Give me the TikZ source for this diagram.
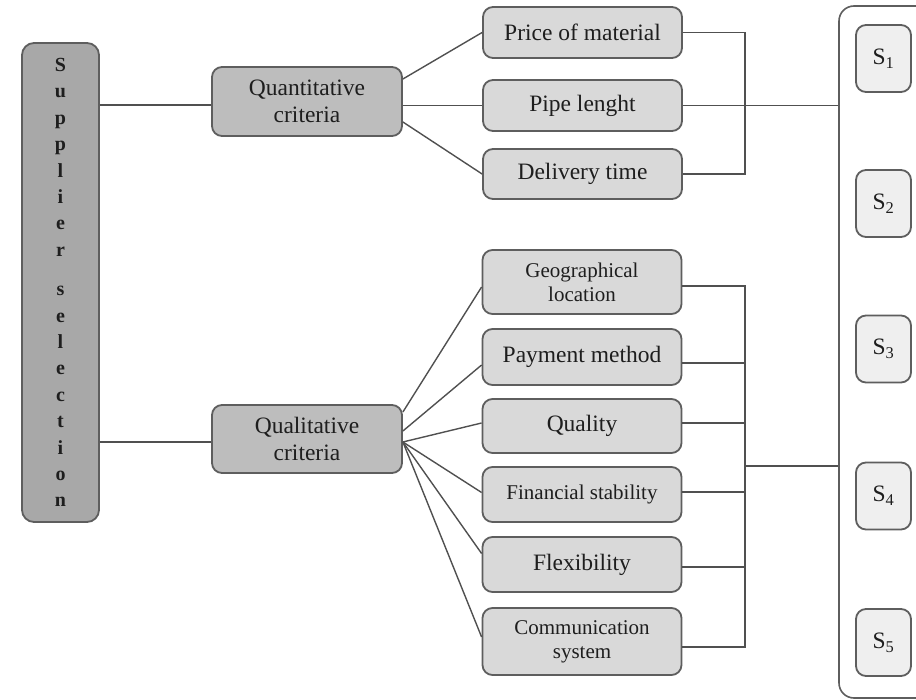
\documentclass[tikz,border=0pt]{standalone}
\usepackage{fontspec}
\setmainfont{Liberation Serif}
\usetikzlibrary{calc}
\definecolor{supfill}{HTML}{A8A8A8}
\definecolor{critfill}{HTML}{BDBDBD}
\definecolor{subfill}{HTML}{D9D9D9}
\definecolor{sfill}{HTML}{EFEFEF}
\definecolor{edge}{HTML}{5E5E5E}
\definecolor{wire}{HTML}{505050}
\definecolor{ink}{HTML}{1E1E1E}
\begin{document}
\begin{tikzpicture}[x=1pt,y=-1pt,
  box/.style={draw=edge, line width=1.8pt, rounded corners=10pt, inner sep=0pt, align=center, text=ink},
  bigtext/.style={font=\fontsize{23.5}{26.5}\selectfont},
  smalltext/.style={font=\fontsize{21}{24}\selectfont},
  subbox/.style={box, fill=subfill, minimum width=199pt},
  critbox/.style={box, fill=critfill, minimum width=190pt, bigtext},
  sbox/.style={box, fill=sfill, minimum width=55pt, minimum height=67pt, bigtext},
  wireline/.style={draw=wire, line width=1.4pt}]
\useasboundingbox (0,0) rectangle (916,700);

% container on the right
\node[draw=edge, line width=1.6pt, rounded corners=15pt, fill=white, minimum width=101pt, minimum height=692pt, inner sep=0pt] (cont) at (889.5,352) {};

% main boxes
\node[box, fill=supfill, rounded corners=12pt, minimum width=77pt, minimum height=479pt,
      font=\fontsize{20}{26.4}\selectfont\bfseries] (sup) at (60.5,282.5)
  {S\\u\\p\\p\\l\\i\\e\\r\\[13pt]s\\e\\l\\e\\c\\t\\i\\o\\n};

\node[critbox, minimum height=69pt] (quant) at (307,101.5) {Quantitative\\criteria};
\node[critbox, minimum height=68pt] (qual) at (307,439) {Qualitative\\criteria};

\node[subbox, bigtext, minimum height=51pt] (price) at (582.5,32.5) {Price of material};
\node[subbox, bigtext, minimum height=51pt] (pipe) at (582.5,105.5) {Pipe lenght};
\node[subbox, bigtext, minimum height=50pt] (deliv) at (582.5,174) {Delivery time};

\node[subbox, smalltext, minimum height=64pt] (geo) at (582,282) {Geographical\\location};
\node[subbox, bigtext, minimum height=56pt] (pay) at (582,357) {Payment method};
\node[subbox, bigtext, minimum height=54pt] (quality) at (582,426) {Quality};
\node[subbox, smalltext, minimum height=55pt] (fin) at (582,494.5) {Financial stability};
\node[subbox, bigtext, minimum height=55pt] (flex) at (582,564.5) {Flexibility};
\node[subbox, smalltext, minimum height=67pt] (comm) at (582,641.5) {Communication\\system};

\node[sbox] (s1) at (883.5,58.5) {S\textsubscript{1}};
\node[sbox] (s2) at (883.5,203.5) {S\textsubscript{2}};
\node[sbox] (s3) at (883.5,349) {S\textsubscript{3}};
\node[sbox] (s4) at (883.5,496) {S\textsubscript{4}};
\node[sbox] (s5) at (883.5,642.5) {S\textsubscript{5}};

% supplier to criteria
\coordinate (ya) at (0,105);
\coordinate (yb) at (0,442);
\draw[wireline] (sup.east |- ya) -- (quant.west |- ya);
\draw[wireline] (sup.east |- yb) -- (qual.west |- yb);

% quantitative branches
\draw[wireline] ($(quant.east)+(0,-22.5)$) -- (price.west);
\draw[wireline] (quant.east |- pipe.west) -- (pipe.west);
\draw[wireline] ($(quant.east)+(0,20.5)$) -- (deliv.west);

% qualitative branches
\coordinate (qs) at ($(qual.east)+(0,3)$);
\draw[wireline] ($(qual.east)+(0,-27)$) -- ($(geo.west)+(0,5)$);
\draw[wireline] ($(qual.east)+(0,-8)$) -- ($(pay.west)+(0,8)$);
\draw[wireline] (qs) -- ($(quality.west)+(0,-3)$);
\draw[wireline] (qs) -- ($(fin.west)+(0,-2)$);
\draw[wireline] (qs) -- ($(flex.west)+(0,-11)$);
\draw[wireline] (qs) -- ($(comm.west)+(0,-4.5)$);

% right-hand collectors (quantitative)
\coordinate (jq) at (745,105.5);
\draw[wireline] (price.east) -| (jq |- deliv.east) -- (deliv.east);
\draw[wireline] (pipe.east) -- (cont.west |- pipe.east);

% right-hand collectors (qualitative)
\coordinate (jl) at (745,466);
\coordinate (ge) at ($(geo.east)+(0,4)$);
\coordinate (ce) at ($(comm.east)+(0,5.5)$);
\coordinate (pe) at ($(pay.east)+(0,6)$);
\coordinate (qe) at ($(quality.east)+(0,-3)$);
\coordinate (fe) at ($(fin.east)+(0,-2.5)$);
\coordinate (xe) at ($(flex.east)+(0,2.5)$);
\draw[wireline] (ge) -| (jl |- ce) -- (ce);
\draw[wireline] (pe) -- (jl |- pe);
\draw[wireline] (qe) -- (jl |- qe);
\draw[wireline] (fe) -- (jl |- fe);
\draw[wireline] (xe) -- (jl |- xe);
\draw[wireline] (jl) -- (cont.west |- jl);
\end{tikzpicture}
\end{document}
